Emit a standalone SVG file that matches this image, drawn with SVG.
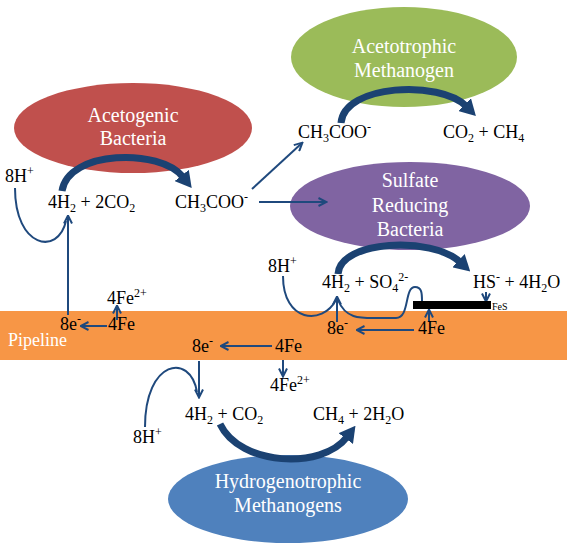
<svg xmlns="http://www.w3.org/2000/svg" width="567" height="554" viewBox="0 0 567 554">
<style>
text{font-family:'Liberation Serif','Times New Roman',serif}
.t{font-size:18px;fill:#000}
.lbl{font-size:20px;fill:#fff;text-anchor:middle}
.s{font-size:12px}
.thin{fill:none;stroke:#1F497D;stroke-width:2}
.thick{fill:none;stroke:#1B4272;stroke-width:7}
</style>
<defs>
<marker id="ah" markerUnits="userSpaceOnUse" viewBox="0 0 10 10" markerWidth="10" markerHeight="10" refX="8.5" refY="5" orient="auto">
<path d="M1,1 L9,5 L1,9" fill="none" stroke="#1F497D" stroke-width="2"/>
</marker>
<marker id="bh" markerUnits="userSpaceOnUse" viewBox="0 0 16 18" markerWidth="16" markerHeight="18" refX="2" refY="9" orient="auto">
<path d="M0,0 L16,9 L0,18 z" fill="#1B4272"/>
</marker>
</defs>
<rect id="pipeline" x="0" y="311" width="567" height="49" fill="#F79646"/>
<text x="8" y="346" font-size="18" fill="#fff">Pipeline</text>

<g id="acetogenic"><ellipse cx="133" cy="128" rx="119" ry="45" fill="#C0504D"/><text class="lbl" x="133" y="122">Acetogenic</text><text class="lbl" x="133" y="145">Bacteria</text></g>
<g id="acetotrophic"><ellipse cx="404" cy="57" rx="113" ry="50" fill="#9BBB59"/><text class="lbl" x="404" y="53">Acetotrophic</text><text class="lbl" x="404" y="77">Methanogen</text></g>
<g id="srb"><ellipse cx="410" cy="206" rx="120" ry="44" fill="#8064A2"/><text class="lbl" x="410" y="187">Sulfate</text><text class="lbl" x="410" y="212">Reducing</text><text class="lbl" x="410" y="236">Bacteria</text></g>
<g id="hydrogenotrophic"><ellipse cx="288" cy="499" rx="120" ry="44" fill="#4F81BD"/><text class="lbl" x="288" y="488">Hydrogenotrophic</text><text class="lbl" x="288" y="512">Methanogens</text></g>

<g id="connectors">
<path class="thick" d="M62,191 C68,150 160,148 183,177" marker-end="url(#bh)"/>
<path class="thick" d="M341,123 C344,84 440,80 466,106" marker-end="url(#bh)"/>
<path class="thick" d="M338,274 C340,240 432,236 460,262" marker-end="url(#bh)"/>
<path class="thick" d="M220,424 C240,466 322,470 347,437" marker-end="url(#bh)"/>

<path class="thin" d="M252,189 L302,143" marker-end="url(#ah)"/>
<path class="thin" d="M259,202 L326,202" marker-end="url(#ah)"/>
<path class="thin" d="M68,315 L68,216" marker-end="url(#ah)"/>
<path class="thin" d="M15,188 C15,248 58,256 66,221"/>
<path class="thin" d="M107,326 L81,326" marker-end="url(#ah)"/>
<path class="thin" d="M117,320 L117,306" marker-end="url(#ah)"/>

<path class="thin" d="M283,276 C283,322 322,326 336,300"/>
<path class="thin" d="M337,322 L337,297" marker-end="url(#ah)"/>
<path class="thin" d="M338,300 C346,320 362,318 380,318 L396,318 C410,318 404,287 415,287 C422,287 422,294 422,301"/>
<path class="thin" d="M414,330 L357,330" marker-end="url(#ah)"/>
<path class="thin" d="M429,322 L429,310" marker-end="url(#ah)"/>
<path class="thin" d="M486,292 L486,301" marker-end="url(#ah)"/>

<path class="thin" d="M272,346 L221,346" marker-end="url(#ah)"/>
<path class="thin" d="M283,360 L283,376" marker-end="url(#ah)"/>
<path class="thin" d="M199,361 L199,397" marker-end="url(#ah)"/>
<path class="thin" d="M145,427 C145,360 190,352 197,392"/>
</g>

<rect id="fes-bar" x="413" y="301" width="78" height="8" fill="#000"/>
<text x="492" y="310" font-size="10" fill="#000">FeS</text>

<g id="labels">
<text class="t" x="5" y="182">8H<tspan class="s" dy="-7">+</tspan></text>
<text class="t" x="48" y="208">4H<tspan class="s" dy="4">2</tspan><tspan dy="-4"> + 2CO</tspan><tspan class="s" dy="4">2</tspan></text>
<text class="t" x="175" y="208">CH<tspan class="s" dy="4">3</tspan><tspan dy="-4">COO</tspan><tspan class="s" dy="-7">-</tspan></text>
<text class="t" x="298" y="138">CH<tspan class="s" dy="4">3</tspan><tspan dy="-4">COO</tspan><tspan class="s" dy="-7">-</tspan></text>
<text class="t" x="443" y="138">CO<tspan class="s" dy="4">2</tspan><tspan dy="-4"> + CH</tspan><tspan class="s" dy="4">4</tspan></text>
<text class="t" x="268" y="272">8H<tspan class="s" dy="-7">+</tspan></text>
<text class="t" x="322" y="288">4H<tspan class="s" dy="4">2</tspan><tspan dy="-4"> + SO</tspan><tspan class="s" dy="4">4</tspan><tspan class="s" dy="-11">2-</tspan></text>
<text class="t" x="473" y="288">HS<tspan class="s" dy="-7">-</tspan><tspan dy="7"> + 4H</tspan><tspan class="s" dy="4">2</tspan><tspan dy="-4">O</tspan></text>
<text class="t" x="418" y="334">4Fe</text>
<text class="t" x="327" y="334">8e<tspan class="s" dy="-7">-</tspan></text>
<text class="t" x="107" y="304">4Fe<tspan class="s" dy="-7">2+</tspan></text>
<text class="t" x="60" y="330">8e<tspan class="s" dy="-7">-</tspan></text>
<text class="t" x="108" y="330">4Fe</text>
<text class="t" x="192" y="352">8e<tspan class="s" dy="-7">-</tspan></text>
<text class="t" x="275" y="352">4Fe</text>
<text class="t" x="270" y="391">4Fe<tspan class="s" dy="-7">2+</tspan></text>
<text class="t" x="133" y="443">8H<tspan class="s" dy="-7">+</tspan></text>
<text class="t" x="185" y="420">4H<tspan class="s" dy="4">2</tspan><tspan dy="-4"> + CO</tspan><tspan class="s" dy="4">2</tspan></text>
<text class="t" x="313" y="420">CH<tspan class="s" dy="4">4</tspan><tspan dy="-4"> + 2H</tspan><tspan class="s" dy="4">2</tspan><tspan dy="-4">O</tspan></text>
</g>
</svg>
